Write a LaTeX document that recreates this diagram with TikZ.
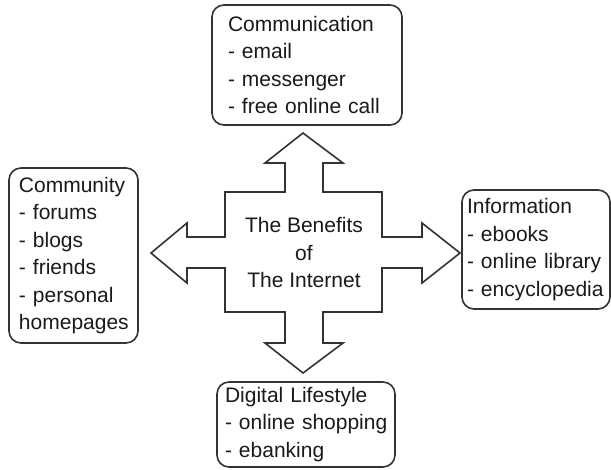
\documentclass[tikz,border=0pt]{standalone}
\usepackage{fontspec}
\setmainfont{Liberation Sans}
\hyphenpenalty=10000
\exhyphenpenalty=10000
\definecolor{linec}{HTML}{333333}
\definecolor{textc}{HTML}{1A1A1A}
\tikzset{
  infobox/.style={draw=linec, line width=1.6pt, rounded corners=12pt, align=left,
    inner ysep=0pt, text=textc, font=\fontsize{21}{27.5}\selectfont},
  crossshape/.style={draw=linec, line width=1.6pt, fill=white, line join=miter},
  centertext/.style={align=center, inner sep=0pt, text=textc, font=\fontsize{21}{27.5}\selectfont}
}
\begin{document}
\begin{tikzpicture}[x=1pt,y=-1pt]
\useasboundingbox[fill=white] (0,0) rectangle (611,469);
\clip (0,0) rectangle (611,469);
% cross of four arrows
\draw[crossshape] (303,133) -- (343,163) -- (323,163) -- (323,192) -- (382,192) -- (382,237)
  -- (422,237) -- (422,223) -- (460,253) -- (422,283) -- (422,268) -- (382,268) -- (382,312)
  -- (323,312) -- (323,343) -- (343,343) -- (303,373) -- (265,343) -- (285,343) -- (285,312)
  -- (225,312) -- (225,268) -- (187,268) -- (187,283) -- (151,253) -- (187,223) -- (187,237)
  -- (225,237) -- (225,192) -- (285,192) -- (285,163) -- (265,163) -- cycle;
\node[centertext] (center) at (304,252.5) {The Benefits\\of\\The Internet};
% boxes
\node[infobox, inner xsep=16pt, text width=158pt, minimum height=120pt] (comm) at (307,65)
  {Communication\\-~email\\-~messenger\\-~free~online~call};
\node[infobox, inner xsep=10pt, text width=109pt, minimum height=175pt] (community) at (73.5,255.5)
  {Community\\-~forums\\-~blogs\\-~friends\\-~personal\\homepages};
\node[infobox, inner xsep=5pt, text width=138pt, minimum height=119pt] (info) at (536,249.5)
  {Information\\-~ebooks\\-~online~library\\-~encyclopedia};
\node[infobox, inner xsep=8pt, text width=162pt, minimum height=85pt] (digital) at (306,424.5)
  {Digital~Lifestyle\\-~online~shopping\\-~ebanking};
\end{tikzpicture}
\end{document}
